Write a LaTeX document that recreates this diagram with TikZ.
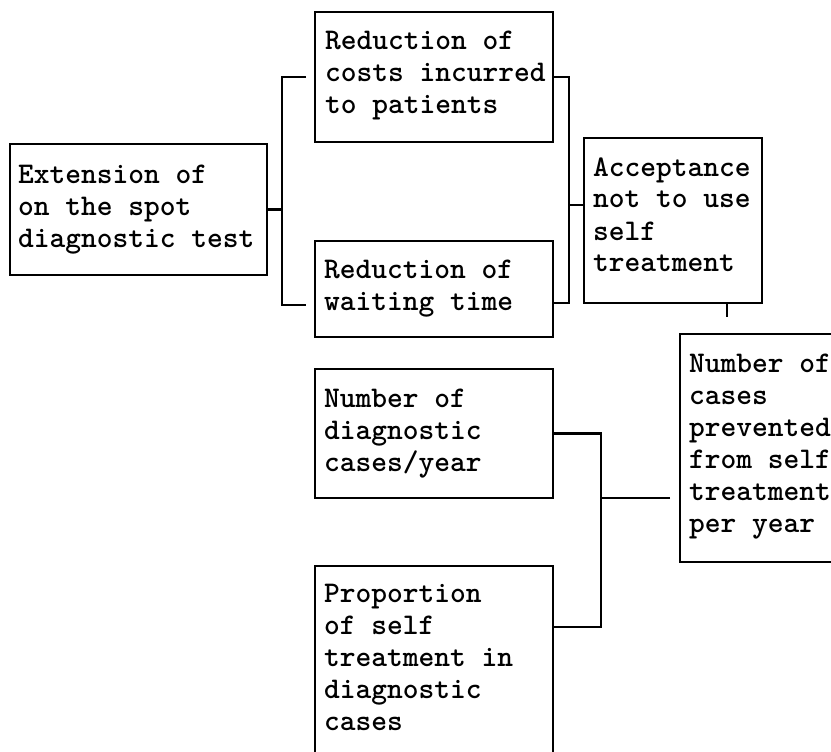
\documentclass[tikz,border=0pt]{standalone}
\usetikzlibrary{calc}
\newcommand{\boxlines}[1]{\begin{tabular}[t]{@{}l@{}}#1\end{tabular}}
\begin{document}
\begin{tikzpicture}[x=1pt,y=-1pt,
  box/.style={draw, line width=2.2pt, rectangle, inner sep=0pt, outer sep=0pt, anchor=north west},
  txt/.style={anchor=base west, inner sep=0pt, font=\fontsize{30}{32}\selectfont\ttfamily\bfseries},
  conn/.style={line width=2.2pt}]
\useasboundingbox (0,0) rectangle (831,752);
\fill[white] (0,0) rectangle (831,752);
\clip (0,0) rectangle (831,752);
% boxes
\node[box, minimum width=257pt, minimum height=131pt] (ext) at (10,144) {};
\node[box, minimum width=238pt, minimum height=130pt] (b1) at (315,12) {};
\node[box, minimum width=238pt, minimum height=96pt] (b2) at (315,241) {};
\node[box, minimum width=178pt, minimum height=165pt] (acc) at (584,138) {};
\node[box, minimum width=238pt, minimum height=129pt] (diag) at (315,369) {};
\node[box, minimum width=220pt, minimum height=228pt] (noc) at (680,334) {};
\node[box, minimum width=238pt, minimum height=230pt] (prop) at (315,566) {};
% texts
\node[txt] (text) at (18,183) {\boxlines{Extension of\\on the spot\\diagnostic test}};
\node[txt] (tb1) at (325,50) {\boxlines{Reduction of\\costs incurred\\to patients}};
\node[txt] (tb2) at (324,278) {\boxlines{Reduction of\\waiting time}};
\node[txt] (tacc) at (593,176) {\boxlines{Acceptance\\not to use\\self\\treatment}};
\node[txt] (tdiag) at (324,407) {\boxlines{Number of\\diagnostic\\cases/year}};
\node[txt] (tnoc) at (689,372) {\boxlines{Number of\\cases\\prevented\\from self\\treatment\\per year}};
\node[txt] (tprop) at (324,602) {\boxlines{Proportion\\of self\\treatment in\\diagnostic\\cases}};
% connector anchor points
\coordinate (accin) at ([yshift=-67pt]acc.north west);
\coordinate (nocin) at ([xshift=-10pt,yshift=-164pt]noc.north west);
% connectors
\draw[conn] (ext.east) -- ++(15,0) coordinate (lm);
\draw[conn] ([xshift=-9pt]b1.west) -| (lm) |- ([xshift=-9pt,yshift=32pt]b2.south west);
\draw[conn] (b1.east) -- ++(16,0) coordinate (rt) |- ([yshift=34pt]b2.south east);
\draw[conn] (accin) -- (rt |- accin);
\draw[conn] ([xshift=-35pt]acc.south east) -- ++(0,14) coordinate (tick);
\draw[conn] (diag.east) -- ++(48,0) coordinate (dm) |- ([yshift=-61pt]prop.north east);
\draw[conn] (nocin) -- (dm |- nocin);
\end{tikzpicture}
\end{document}
